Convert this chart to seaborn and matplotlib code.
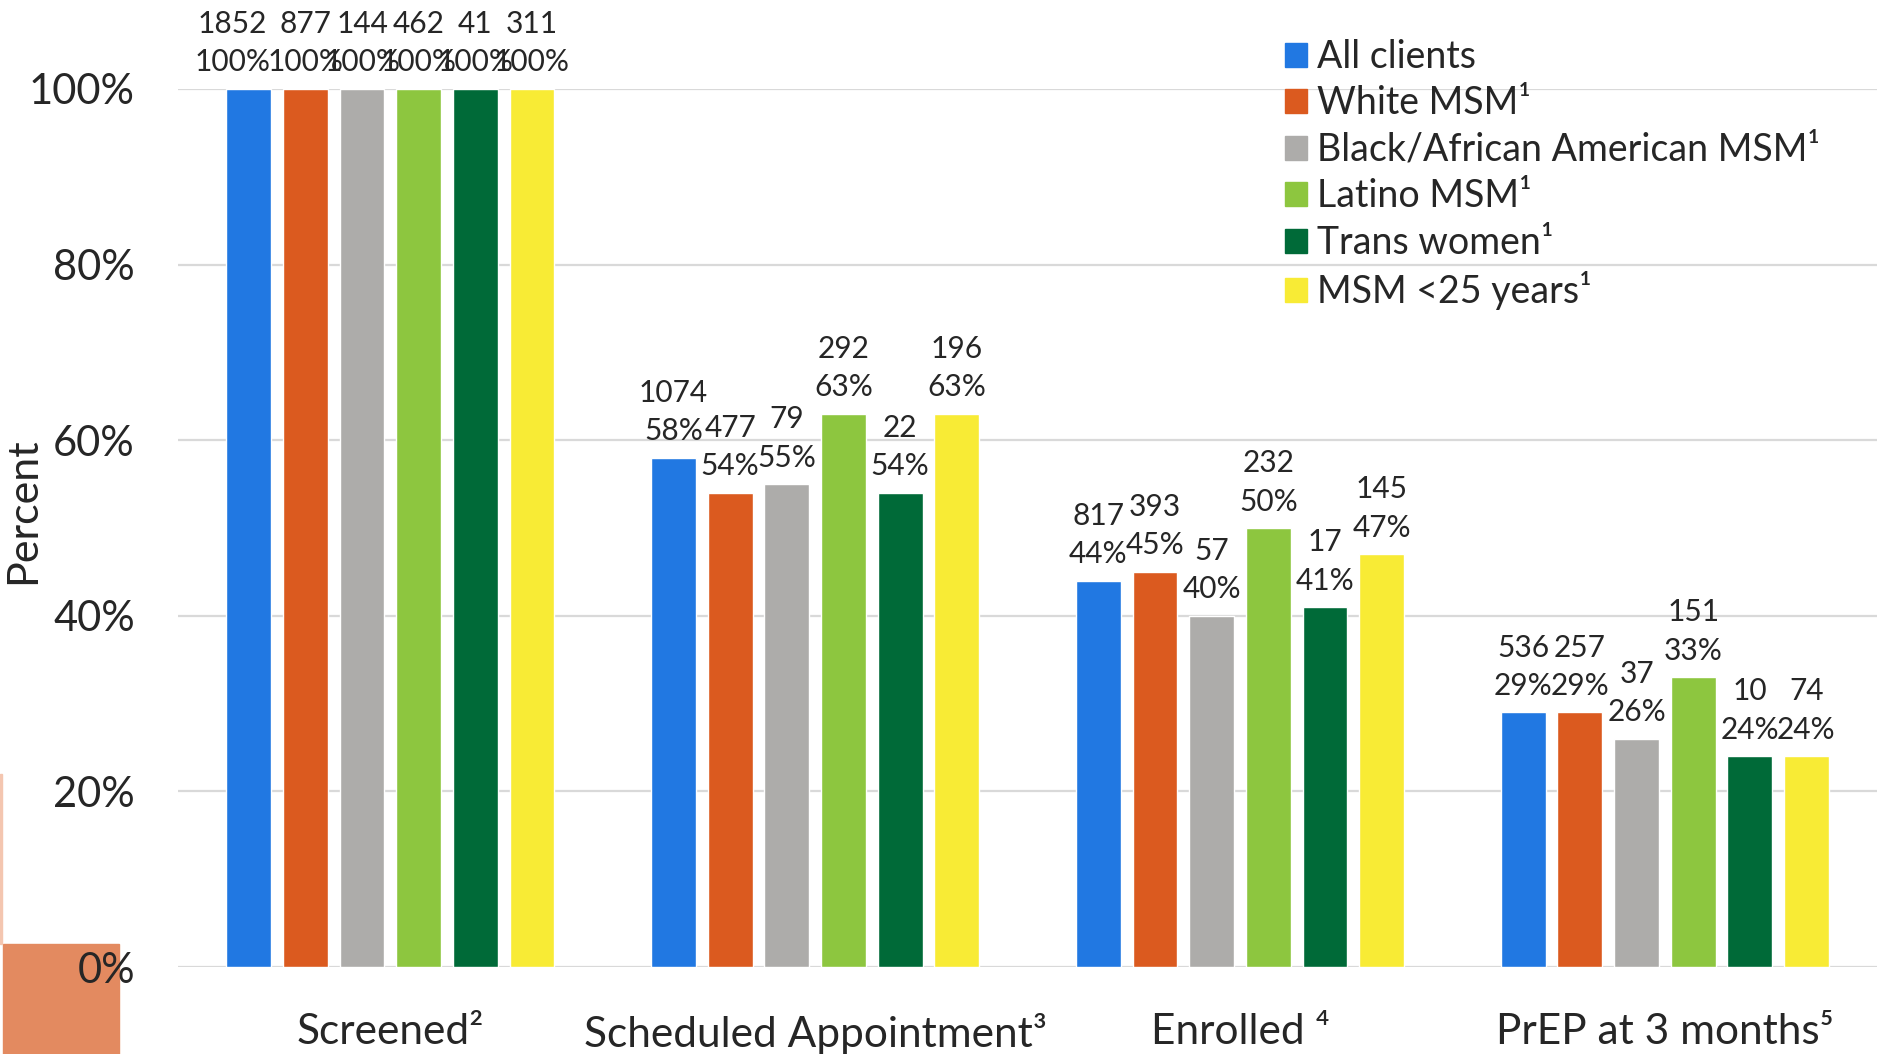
import pandas as pd
import matplotlib.pyplot as plt
import seaborn as sns
from matplotlib.patches import Rectangle

sns.set_theme(style="white")
plt.rcParams['font.family'] = ['Lato', 'Noto Sans', 'DejaVu Sans']

stages = ['Screened²', 'Scheduled Appointment³', 'Enrolled ⁴', 'PrEP at 3 months⁵']
groups = ['All clients', 'White MSM¹', 'Black/African American MSM¹',
          'Latino MSM¹', 'Trans women¹', 'MSM <25 years¹']
colors = ['#2178E2', '#DB5A1F', '#ADACAA', '#8DC63F', '#006A38', '#F8EB35']

# counts per group at each stage
n_all = [1852, 1074, 817, 536]
n_white = [877, 477, 393, 257]
n_black = [144, 79, 57, 37]
n_latino = [462, 292, 232, 151]
n_trans = [41, 22, 17, 10]
n_young = [311, 196, 145, 74]

# percent of screened
p_all = [100, 58, 44, 29]
p_white = [100, 54, 45, 29]
p_black = [100, 55, 40, 26]
p_latino = [100, 63, 50, 33]
p_trans = [100, 54, 41, 24]
p_young = [100, 63, 47, 24]

counts = [n_all, n_white, n_black, n_latino, n_trans, n_young]
pcts = [p_all, p_white, p_black, p_latino, p_trans, p_young]

rows = []
for g, cs, ps in zip(groups, counts, pcts):
    for s, c, p in zip(stages, cs, ps):
        rows.append({'stage': s, 'group': g, 'n': c, 'pct': p})
df = pd.DataFrame(rows)

fig = plt.figure(figsize=(18.81, 10.54), dpi=100)
ax = fig.add_axes([0.0946, 0.0825, 0.9034, 0.8331])

sns.barplot(data=df, x='stage', y='pct', hue='group', order=stages,
            hue_order=groups, palette=colors, saturation=1,
            width=0.8, gap=0.21, ax=ax, legend=False)

all_txt = []
for cont, cs, ps in zip(ax.containers, counts, pcts):
    labels = [f'{c}\n{p}%' for c, p in zip(cs, ps)]
    all_txt.append(ax.bar_label(cont, labels=labels, padding=9, fontsize=21.5,
                                linespacing=1.45, clip_on=False))
# the first label sits a bit to the left in the original
first = all_txt[0][0]
first.xyann = (-12, first.xyann[1])

ax.set_xlim(-0.5, 3.5)
ax.set_ylim(0, 100)
ax.set_yticks([0, 20, 40, 60, 80, 100])
ax.set_yticklabels([f'{t}%' for t in [0, 20, 40, 60, 80, 100]])
ax.yaxis.grid(True, color='#D9D9D9', linewidth=1.6)
ax.set_axisbelow(True)
for sp in ax.spines.values():
    sp.set_visible(False)
ax.tick_params(axis='y', length=0, pad=31, labelsize=30)
ax.tick_params(axis='x', length=0, pad=33, labelsize=30.5)
ax.set_xlabel('')
ax.set_ylabel('Percent', fontsize=31)
ax.yaxis.set_label_coords(-0.080, 0.52)

handles = [Rectangle((0, 0), 1, 1, color=c) for c in colors]
fig.legend(handles, groups, loc='upper left', bbox_to_anchor=(0.683, 0.963),
           frameon=False, fontsize=27, labelspacing=0.28, handlelength=0.6,
           handleheight=0.6, handletextpad=0.25, borderpad=0, borderaxespad=0)

# stray shapes at the lower-left corner of the slide
fig.patches.append(Rectangle((3 / 1881, 0), 116 / 1881, 110 / 1054,
                             transform=fig.transFigure, color='#E38A60', zorder=-1))
fig.patches.append(Rectangle((0, 110 / 1054), 2 / 1881, 170 / 1054,
                             transform=fig.transFigure, color='#F4C6B0', zorder=-1))

fig.savefig('out.png', dpi=100)
